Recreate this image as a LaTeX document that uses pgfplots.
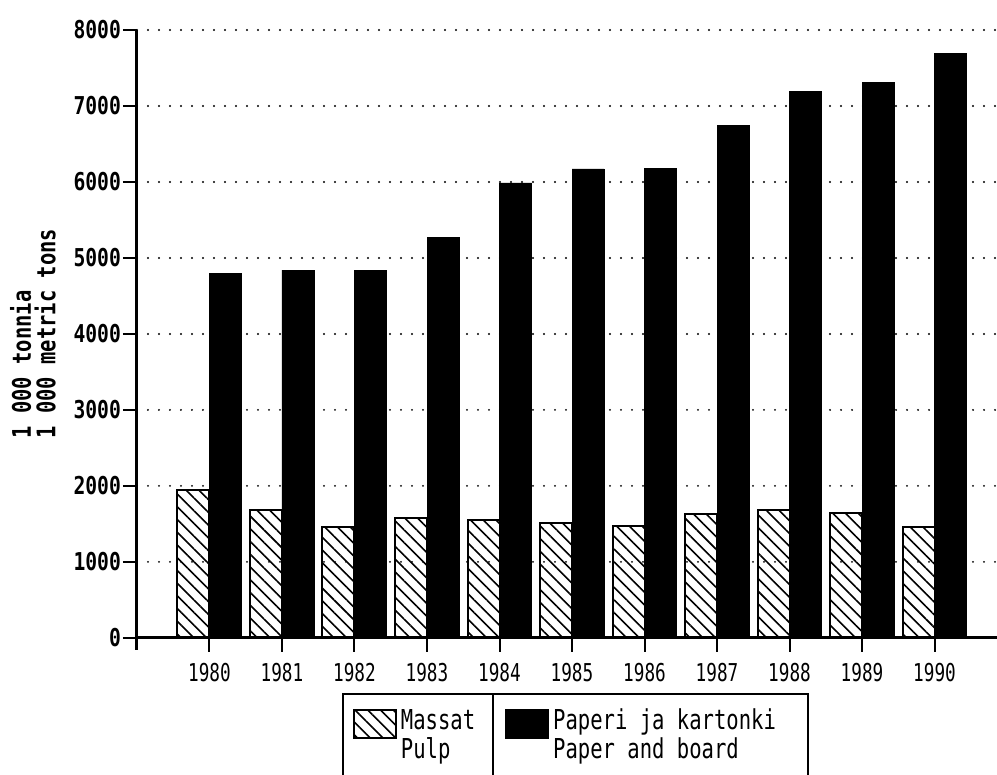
\documentclass[border=0pt]{standalone}
\usepackage{fontspec}
\usepackage{pgfplots}
\usepackage{pgfplotstable}
\pgfplotsset{compat=1.18}
\usetikzlibrary{patterns.meta}
\newfontfamily\plotfont{DejaVu Sans Mono}[FakeStretch=0.75]
\newfontfamily\tickfont{DejaVu Sans Mono}[FakeStretch=0.72]
\newfontfamily\plotfontb{DejaVu Sans Mono}[FakeStretch=0.8]

\pgfplotstableread{
x pulp paper
0 1945 4800
1 1676 4840
2 1456 4837
3 1575 5272
4 1557 5987
5 1513 6171
6 1474 6176
7 1636 6746
8 1684 7195
9 1645 7310
10 1465 7690
}\data

\begin{document}
\begin{tikzpicture}
\begin{axis}[
  scale only axis, width=430pt, height=310pt,
  xmin=-1, xmax=10.862, ymin=-160, ymax=8000,
  axis x line=middle, axis y line=left,
  axis line style={-, line width=1.5pt},
  hide obscured x ticks=false, hide obscured y ticks=false,
  xtick={0,1,2,3,4,5,6,7,8,9,10},
  xticklabels={1980,1981,1982,1983,1984,1985,1986,1987,1988,1989,1990},
  ytick={0,1000,2000,3000,4000,5000,6000,7000,8000},
  yticklabels={0,1000,2000,3000,4000,5000,6000,7000,8000},
  tick align=outside, major tick length=7pt,
  tick style={line width=1pt, black},
  ymajorgrids=true,
  grid style={line width=1.1pt, line cap=round, dash pattern=on 0pt off 5.5pt, black},
  ybar=0pt, bar width=16pt,
  xticklabel style={font=\tickfont\fontsize{12.3}{12}\selectfont, yshift=-2pt},
  yticklabel style={font=\plotfontb\bfseries\fontsize{12.3}{12}\selectfont, xshift=2.5pt},
  ylabel={\begin{tabular}{@{}l@{}}1 000 tonnia\\[-1.5pt]1 000 metric tons\end{tabular}},
  ylabel style={font=\plotfontb\bfseries\fontsize{12.8}{11}\selectfont,
    at={(axis description cs:-0.1175,0.51)}, anchor=center},
  legend columns=2,
  legend cell align=left,
  legend style={at={(axis description cs:0.2395,-0.071)}, anchor=north west,
    draw=none, fill=none, line width=1pt,
    font=\plotfont\fontsize{13.7}{13.5}\selectfont,
    inner xsep=4.5pt, inner ysep=5pt,
    /tikz/every even column/.append style={column sep=13pt}},
  mylegend/.style={legend image code/.code={\draw[##1] (0pt,-8.5pt) rectangle (21pt,5.5pt);}},
]
\addplot[draw=black, line width=1pt, pattern={Lines[angle=-45,distance=4.5pt,line width=0.8pt]}, mylegend]
  table[x=x,y=pulp]{\data};
\addlegendentry{{\begin{tabular}[t]{@{}l@{}}Massat\\Pulp\end{tabular}}}
\addplot[draw=black, fill=black, mylegend]
  table[x=x,y=paper]{\data};
\addlegendentry{{\begin{tabular}[t]{@{}l@{}}Paperi ja kartonki\\Paper and board\end{tabular}}}
\end{axis}
\draw[line width=1pt] (103pt,-70pt) -- (103pt,-22pt) -- (335.5pt,-22pt) -- (335.5pt,-70pt);
\draw[line width=1pt] (178pt,-22pt) -- (178pt,-70pt);
\pgfresetboundingbox
\path[use as bounding box] (-68.5pt,-62.5pt) rectangle (430pt,325pt);
\end{tikzpicture}
\end{document}
